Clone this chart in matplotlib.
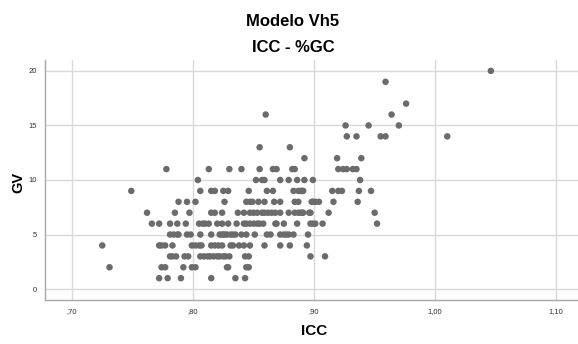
import numpy as np
import matplotlib.pyplot as plt

plt.rcParams['font.family'] = ['Liberation Sans', 'DejaVu Sans']

# ICC values per GV level
gv_levels = [20, 19, 17, 16, 15, 14, 13, 12, 11, 10, 9, 8, 7, 6, 5, 4, 3, 2, 1]
icc_by_gv = [
    [1.046],
    [0.959],
    [0.976],
    [0.860, 0.964],
    [0.926, 0.945, 0.970],
    [0.927, 0.935, 0.955, 0.959, 1.010],
    [0.855, 0.880],
    [0.892, 0.919, 0.939],
    [0.778, 0.813, 0.830, 0.840, 0.855, 0.866, 0.869, 0.882, 0.884, 0.920,
     0.924, 0.927, 0.932, 0.935],
    [0.804, 0.852, 0.857, 0.859, 0.872, 0.879, 0.886, 0.892, 0.899, 0.938],
    [0.749, 0.806, 0.815, 0.818, 0.825, 0.829, 0.846, 0.861, 0.866, 0.883,
     0.887, 0.889, 0.890, 0.891, 0.915, 0.920, 0.923, 0.937, 0.947],
    [0.788, 0.795, 0.802, 0.826, 0.844, 0.847, 0.849, 0.854, 0.859, 0.867,
     0.872, 0.884, 0.887, 0.898, 0.899, 0.901, 0.904, 0.916, 0.936],
    [0.762, 0.785, 0.797, 0.815, 0.818, 0.824, 0.837, 0.842, 0.847, 0.850,
     0.853, 0.857, 0.859, 0.862, 0.865, 0.868, 0.872, 0.879, 0.884, 0.887,
     0.889, 0.890, 0.891, 0.896, 0.897, 0.912, 0.950],
    [0.766, 0.772, 0.781, 0.787, 0.794, 0.805, 0.808, 0.810, 0.813, 0.820,
     0.824, 0.829, 0.836, 0.842, 0.844, 0.847, 0.850, 0.853, 0.855, 0.858,
     0.868, 0.869, 0.875, 0.886, 0.897, 0.899, 0.901, 0.907, 0.952],
    [0.781, 0.784, 0.787, 0.788, 0.795, 0.798, 0.806, 0.815, 0.822, 0.824,
     0.825, 0.826, 0.828, 0.831, 0.833, 0.835, 0.840, 0.844, 0.851, 0.861,
     0.864, 0.872, 0.875, 0.877, 0.879, 0.883, 0.895],
    [0.725, 0.772, 0.774, 0.777, 0.783, 0.799, 0.802, 0.805, 0.807, 0.815,
     0.818, 0.821, 0.824, 0.831, 0.833, 0.838, 0.842, 0.847, 0.859, 0.872,
     0.880, 0.894],
    [0.781, 0.783, 0.786, 0.793, 0.796, 0.806, 0.809, 0.812, 0.814, 0.817,
     0.820, 0.822, 0.825, 0.827, 0.830, 0.843, 0.846, 0.897, 0.909],
    [0.731, 0.774, 0.777, 0.792, 0.799, 0.802, 0.828, 0.829, 0.844, 0.846],
    [0.772, 0.779, 0.790, 0.815, 0.835, 0.843],
]

x_ticks = [0.70, 0.80, 0.90, 1.00, 1.10]
x_tick_labels = [',70', ',80', ',90', '1,00', '1,10']
y_ticks = [0, 5, 10, 15, 20]

icc = np.concatenate([np.array(v) for v in icc_by_gv])
gv = np.concatenate([np.full(len(v), g) for g, v in zip(gv_levels, icc_by_gv)])

fig = plt.figure(figsize=(5.78, 3.44), dpi=100)
ax = fig.add_axes([45 / 578, 1 - 300 / 344, 533 / 578, 240 / 344])

ax.scatter(icc, gv, s=22, color='#6b6b6b', edgecolors='none', zorder=3)

ax.set_xlim(0.6777, 1.118)
ax.set_ylim(-1.0, 21.0)
ax.set_xticks(x_ticks)
ax.set_xticklabels(x_tick_labels)
ax.set_yticks(y_ticks)
ax.tick_params(length=0, labelsize=5.5, labelcolor='#333333', pad=6)

ax.grid(True, color='#d9d9d9', linewidth=1.0)
ax.set_axisbelow(True)
for side in ['top', 'right']:
    ax.spines[side].set_visible(False)
for side in ['left', 'bottom']:
    ax.spines[side].set_color('#a6a6a6')
    ax.spines[side].set_linewidth(1.0)

fig.text(293 / 578, 1 - 21 / 344, 'Modelo Vh5', ha='center', va='center',
         fontsize=12, fontweight='bold')
fig.text(293 / 578, 1 - 48 / 344, 'ICC - %GC', ha='center', va='center',
         fontsize=12, fontweight='bold')
fig.text(314 / 578, 1 - 331 / 344, 'ICC', ha='center', va='center',
         fontsize=11, fontweight='bold')
fig.text(18 / 578, 1 - 182 / 344, 'GV', ha='center', va='center',
         fontsize=10.5, fontweight='bold', rotation=90)

fig.savefig('out.png', dpi=100)
